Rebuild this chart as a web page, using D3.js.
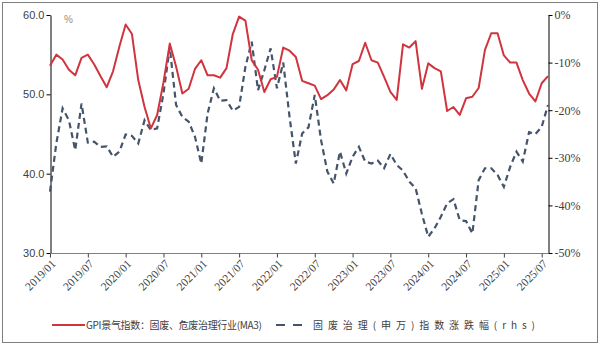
<!DOCTYPE html>
<html><head><meta charset="utf-8">
<script src="https://cdn.jsdelivr.net/npm/d3@7"></script>
<style>
html,body{margin:0;padding:0;background:#fff;}
svg{display:block;}
</style></head>
<body>
<div id="chart"></div>
<script>
// Months 2019/01 .. 2025/08
const months = [];
for (let y = 2019; y <= 2025; y++) for (let m = 1; m <= 12; m++) {
  if (y === 2025 && m > 8) break;
  months.push(y + "/" + String(m).padStart(2, "0"));
}
const tickLabels = ["2019/01","2019/07","2020/01","2020/07","2021/01","2021/07","2022/01","2022/07","2023/01","2023/07","2024/01","2024/07","2025/01","2025/07"];
const leftTicks = [30, 40, 50, 60];
const rightTicks = [0, -10, -20, -30, -40, -50];

const gpiName = "GPI景气指数：固废、危废治理行业(MA3)";
const gpi = [53.6,55.0,54.4,53.1,52.4,54.6,55.0,53.8,52.3,50.9,52.9,56.0,
             58.8,57.6,51.8,48.4,45.7,47.4,51.5,56.4,53.5,50.1,50.7,53.2,
             54.3,52.4,52.4,52.1,53.3,57.6,59.8,59.3,54.3,53.1,50.3,51.9,
             52.2,55.9,55.5,54.7,51.7,51.4,51.1,49.4,49.9,50.6,51.8,50.5,
             53.8,54.2,56.5,54.3,54.0,52.2,50.3,49.3,56.3,55.9,56.7,50.7,
             53.9,53.3,52.9,47.9,48.4,47.4,49.5,49.7,50.8,55.6,57.7,57.7,
             54.9,54.0,54.0,51.8,50.1,49.1,51.4,52.3];

const idxName = "固废治理(申万)指数涨跌幅(rhs)";
const idxChg = [-37.1,-27.0,-19.6,-22.1,-28.4,-18.6,-26.8,-26.6,-27.7,-27.6,-29.8,-28.7,
                -25.1,-25.4,-27.0,-22.1,-24.2,-23.8,-16.5,-6.8,-18.9,-21.4,-22.4,-25.6,
                -31.2,-20.7,-15.4,-18.0,-17.9,-20.1,-19.3,-10.9,-5.6,-15.8,-11.6,-7.0,
                -15.4,-10.0,-21.4,-31.2,-24.9,-23.6,-16.8,-26.3,-32.9,-35.4,-28.7,-33.3,
                -29.8,-27.7,-30.8,-31.2,-30.6,-32.2,-29.2,-31.5,-32.7,-35.0,-36.4,-41.8,
                -46.6,-44.8,-42.4,-39.6,-38.7,-43.1,-43.3,-45.9,-34.7,-32.2,-32.2,-33.6,
                -36.1,-31.9,-28.7,-30.8,-24.6,-25.0,-23.5,-18.9];

const W = 600, H = 347;
const svg = d3.select("#chart").append("svg").attr("width", W).attr("height", H);

// outer border
svg.append("rect").attr("x", 2.5).attr("y", 2.5).attr("width", 595).attr("height", 340)
  .attr("fill", "none").attr("stroke", "#7f7f7f").attr("stroke-width", 1);

const x = d3.scaleLinear().domain([0, months.length - 1]).range([50, 548]);
const yL = d3.scaleLinear().domain([30, 60]).range([253, 15]);
const yR = d3.scaleLinear().domain([-50, 0]).range([253, 15]);

// left axis
const gL = svg.append("g").attr("transform", "translate(50.5,0)")
  .call(d3.axisLeft(yL).tickValues(leftTicks).tickFormat(d3.format(".1f")).tickSize(4).tickSizeOuter(0));
gL.select(".domain").attr("stroke", "#000");
gL.selectAll(".tick line").attr("stroke", "#000");
gL.selectAll("text").attr("font-family", "Liberation Sans, Arial, sans-serif").attr("font-size", 11)
  .attr("fill", "#404040").attr("x", -6);

// right axis
const gR = svg.append("g").attr("transform", "translate(548.5,0)")
  .call(d3.axisRight(yR).tickValues(rightTicks).tickFormat(d => d + "%").tickSize(4).tickSizeOuter(0));
gR.select(".domain").attr("stroke", "#000");
gR.selectAll(".tick line").attr("stroke", "#000");
gR.selectAll("text").attr("font-family", "Liberation Serif, Times New Roman, serif").attr("font-size", 12)
  .attr("fill", "#404040").attr("x", 6);

// bottom axis
const tickIdx = tickLabels.map(t => months.indexOf(t));
const gB = svg.append("g").attr("transform", "translate(0,253.5)")
  .call(d3.axisBottom(x).tickValues(tickIdx).tickFormat(i => months[i]).tickSize(4).tickSizeOuter(0));
gB.select(".domain").attr("stroke", "#808080").attr("d", "M50,0H548.5");
gB.selectAll(".tick line").attr("stroke", "#404040");
gB.selectAll("text").attr("font-family", "Liberation Serif, Times New Roman, serif").attr("font-size", 11.5)
  .attr("fill", "#404040").attr("text-anchor", "end")
  .attr("dy", null).attr("y", 0)
  .attr("transform", "translate(6,11) rotate(-45)");

// % unit label
svg.append("text").attr("x", 64).attr("y", 23).text("%")
  .attr("font-family", "Liberation Sans, Arial, sans-serif").attr("font-size", 10).attr("fill", "#a08c78");

// lines
const lineL = d3.line().x((d, i) => x(i)).y(d => yL(d));
const lineR = d3.line().x((d, i) => x(i)).y(d => yR(d));

svg.append("path").datum(idxChg).attr("d", lineR).attr("fill", "none")
  .attr("stroke", "#44546a").attr("stroke-width", 2.2).attr("stroke-dasharray", "6,4");
svg.append("path").datum(gpi).attr("d", lineL).attr("fill", "none")
  .attr("stroke", "#d0343f").attr("stroke-width", 2).attr("stroke-linejoin", "round");

// legend
const lg = svg.append("g").attr("transform", "translate(0,325)");
lg.append("line").attr("x1", 52).attr("x2", 85).attr("y1", 0).attr("y2", 0)
  .attr("stroke", "#d0343f").attr("stroke-width", 2);
lg.append("text").attr("x", 86).attr("y", 4).text(gpiName)
  .attr("font-family", "Noto Sans CJK SC, sans-serif").attr("font-size", 10).attr("fill", "#404040")
  .attr("textLength", 176).attr("lengthAdjust", "spacing");
lg.append("line").attr("x1", 276).attr("x2", 303).attr("y1", 0).attr("y2", 0)
  .attr("stroke", "#44546a").attr("stroke-width", 2.2).attr("stroke-dasharray", "9,8");
lg.append("text").attr("x", 313).attr("y", 4).text(idxName)
  .attr("font-family", "Noto Sans CJK SC, sans-serif").attr("font-size", 10).attr("fill", "#404040")
  .attr("textLength", 222).attr("lengthAdjust", "spacing");
</script>
</body></html>
